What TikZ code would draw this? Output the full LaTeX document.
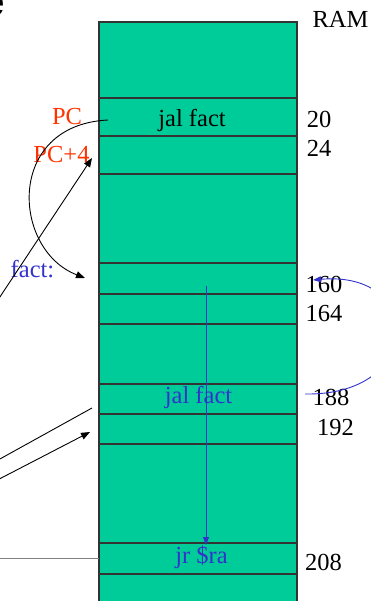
\documentclass[tikz,border=0pt]{standalone}
\usepackage{fontspec}
\setmainfont{Liberation Serif}
\newfontfamily\headfont{Liberation Sans}
\usetikzlibrary{arrows.meta}
\definecolor{memfill}{HTML}{00CC99}
\definecolor{pcred}{HTML}{FF3300}
\definecolor{callblue}{HTML}{3333CC}

\begin{document}
\begin{tikzpicture}[x=1pt, y=-1pt,
  cell/.style={draw=black!80, line width=1.2pt, fill=memfill, minimum width=198pt, inner sep=0pt, outer sep=0pt, anchor=north west},
  lbl/.style={font=\fontsize{24.5}{28}\selectfont, inner sep=0pt},
  arr/.style={-{Triangle[length=9pt,width=7pt]}, line width=0.9pt},
  barr/.style={-{Triangle[length=8pt,width=6pt]}, line width=0.9pt, callblue}]
  \useasboundingbox (0,0) rectangle (371,601);
  \node[font=\headfont\bfseries\fontsize{44}{48}\selectfont, inner sep=0pt, anchor=base east] (ttl) at (5,17) {e};
  % memory cells, top to bottom
  \foreach \n/\t/\b in {c0/22/98, c1/98/136, c2/136/174, c3/174/263, c4/263/294, c5/294/324,
      c6/324/384, c7/384/414, c8/414/444, c9/444/543, c10/543/574, c11/574/620}
    \node[cell, minimum height={\b-\t}] (\n) at (99,\t) {};
  \node[lbl] (ram) at (340.5,19) {RAM};
  \node[lbl] (call) at (192,120) {jal fact};
  \node[lbl, callblue] (rcall) at (198.5,397) {jal fact};
  \node[lbl, callblue] (jr) at (201.5,557) {jr \$ra};
  \node[lbl] (a20) at (319,119) {20};
  \node[lbl] (a24) at (319,148.5) {24};
  \node[lbl] (a160) at (324,284) {160};
  \node[lbl] (a164) at (324,314) {164};
  \node[lbl] (a188) at (331,397.5) {188};
  \node[lbl] (a192) at (335.5,428) {192};
  \node[lbl] (a208) at (323.5,562.5) {208};
  \node[lbl, pcred] (pc) at (67,116.5) {PC};
  \node[lbl, pcred] (pc4) at (61.5,155) {PC+4};
  \node[lbl, callblue] (fact) at (32.5,269) {fact:};
  % connector ends
  \coordinate (jmpsrc) at (108,120);
  \coordinate (jmpend) at (85,278);
  \coordinate (retsrc) at (-20,327);
  \coordinate (retend) at (92,158);
  \coordinate (lnsrc) at (-20,470);
  \coordinate (lnend) at (92,408);
  \coordinate (ret2src) at (-20,489);
  \coordinate (ret2end) at (90,432);
  \coordinate (jrsrc) at (-5,558);
  \coordinate (bodytop) at (206,286);
  \coordinate (bodyend) at (206,545);
  \coordinate (rsrc) at (305,394);
  \coordinate (rend) at (313,280);
  \draw[arr] (jmpsrc) .. controls (5,125) and (12,250) .. (jmpend);
  \draw[arr] (retsrc) -- (retend);
  \draw[line width=0.9pt] (lnsrc) -- (lnend);
  \draw[arr] (ret2src) -- (ret2end);
  \draw[gray, line width=0.9pt] (jrsrc) -- (c10.west |- jrsrc);
  \draw[barr] (bodytop) -- (bodyend);
  \draw[barr] (rsrc) .. controls (425,396) and (425,270) .. (rend);
\end{tikzpicture}
\end{document}
